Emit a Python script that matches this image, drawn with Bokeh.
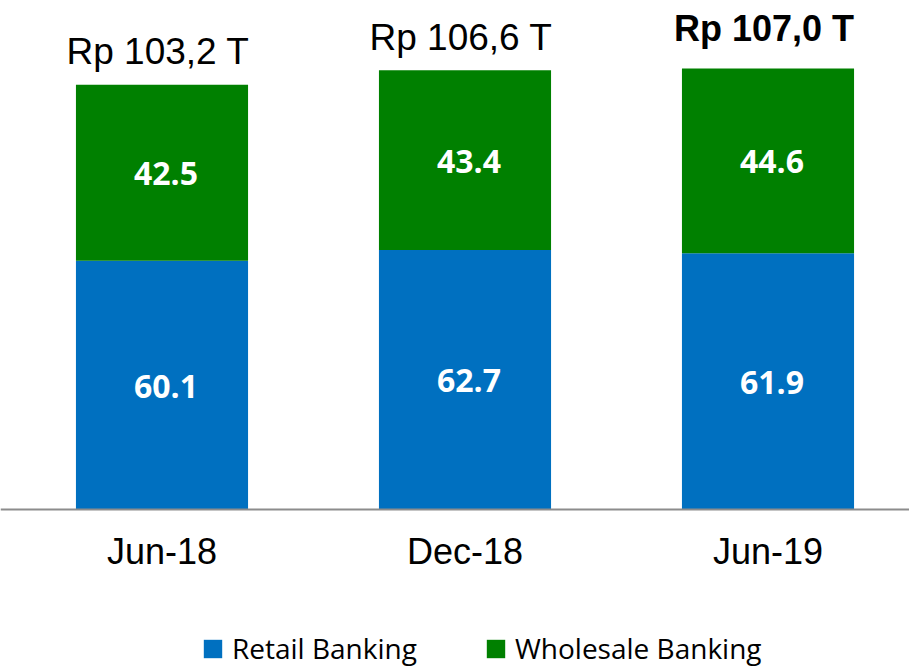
from bokeh.plotting import figure
from bokeh.models import (ColumnDataSource, Range1d, FixedTicker, Legend, LegendItem,
                          CDSView, IndexFilter)
from bokeh.core.properties import value
from bokeh.embed import file_html
from bokeh.resources import INLINE

# ---- data ----
categories = ["Jun-18", "Dec-18", "Jun-19"]
retail = [60.1, 62.7, 61.9]
wholesale = [42.5, 43.4, 44.6]
totals = [103.2, 106.6, 107.0]
series_names = ["Retail Banking", "Wholesale Banking"]

# ---- derived ----
xs = list(range(len(categories)))
stack_top = [r + w for r, w in zip(retail, wholesale)]
src = ColumnDataSource(dict(
    x=xs,
    retail=retail,
    wholesale=wholesale,
    retail_mid=[r / 2 for r in retail],
    wholesale_mid=[r + w / 2 for r, w in zip(retail, wholesale)],
    retail_txt=["%.1f" % v for v in retail],
    wholesale_txt=["%.1f" % v for v in wholesale],
    top=stack_top,
    total_txt=[("Rp %.1f T" % v).replace(".", ",") for v in totals],
))

BLUE = "#0070C0"
GREEN = "#008000"

p = figure(width=909, height=669, output_backend="svg", toolbar_location=None,
           x_range=Range1d(-0.533, 2.467), y_range=Range1d(-38.65, 122.95),
           y_axis_location=None, min_border=0)
p.outline_line_color = None
p.xgrid.visible = False
p.ygrid.visible = False
p.background_fill_color = "white"
p.border_fill_color = "white"

renderers = p.vbar_stack(["retail", "wholesale"], x="x", width=0.568,
                         color=[BLUE, GREEN], line_color=None, source=src)

# segment labels
for ycol, tcol in (("retail_mid", "retail_txt"), ("wholesale_mid", "wholesale_txt")):
    p.text(x="x", y=ycol, text=tcol, source=src, text_color="white",
           text_font=value("Open Sans"), text_font_style="bold",
           text_font_size="32px", text_align="center", text_baseline="middle",
           x_offset=4, y_offset=1)

# total labels
hi = len(categories) - 1
p.text(x="x", y="top", text="total_txt", source=src,
       view=CDSView(filter=IndexFilter(list(range(hi)))),
       text_color="black", text_font=value("Liberation Sans"),
       text_font_size="37px", text_align="center", text_baseline="alphabetic",
       x_offset=-4, y_offset=-33)
p.text(x="x", y="top", text="total_txt", source=src,
       view=CDSView(filter=IndexFilter([hi])),
       text_color="black", text_font=value("Liberation Sans"), text_font_style="bold",
       text_font_size="36px", text_align="center", text_baseline="alphabetic",
       x_offset=-4, y_offset=-40)

ax = p.xaxis[0]
ax.fixed_location = 0
ax.ticker = FixedTicker(ticks=xs)
ax.major_label_overrides = {i: c for i, c in zip(xs, categories)}
ax.major_tick_line_color = None
ax.minor_tick_line_color = None
ax.axis_line_color = "#8c8c8c"
ax.axis_line_width = 2
ax.major_label_text_font = "Liberation Sans"
ax.major_label_text_font_size = "36px"
ax.major_label_text_color = "black"
ax.major_label_standoff = 16

legend = Legend(items=[LegendItem(label=n, renderers=[r]) for n, r in zip(series_names, renderers)],
                orientation="horizontal", location=(201, 2),
                glyph_width=23, glyph_height=23, label_standoff=8, spacing=67,
                padding=0, margin=0, border_line_color=None, background_fill_alpha=0,
                label_text_font="Open Sans", label_text_font_size="28px",
                label_text_color="black")
p.add_layout(legend)

open("out.html", "w").write(file_html(p, INLINE))
